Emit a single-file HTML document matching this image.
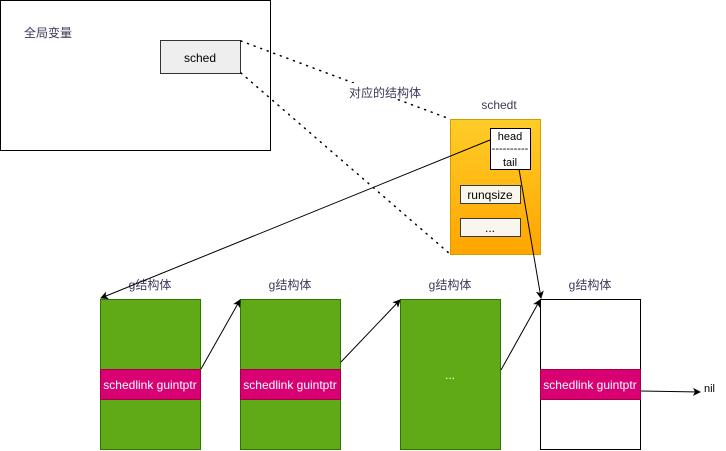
<!DOCTYPE html>
<html><head><meta charset="utf-8"><style>
html,body{margin:0;padding:0;background:#fff;}
svg{display:block;font-family:"Liberation Sans","Noto Sans CJK SC",sans-serif;}
</style></head><body>
<svg width="726" height="451" viewBox="0 0 726 451" xmlns="http://www.w3.org/2000/svg">
<defs>
<linearGradient id="og" x1="0" y1="0" x2="0" y2="1"><stop offset="0" stop-color="#ffcd28"/><stop offset="1" stop-color="#ffa500"/></linearGradient>
<marker id="ar" markerWidth="8" markerHeight="8" refX="7" refY="4" orient="auto" markerUnits="userSpaceOnUse"><path d="M0,0 L8,4 L0,8 L2,4 z" fill="#000"/></marker>
</defs>
<rect x="0.5" y="0.5" width="270" height="150" fill="#fff" stroke="#000"/>
<text x="24" y="37" font-size="12" fill="#3a3a5a">全局变量</text>
<rect x="160.5" y="40.5" width="80" height="33" fill="#eeeeee" stroke="#333"/>
<text x="200" y="62" font-size="12" text-anchor="middle">sched</text>
<line x1="241" y1="41" x2="450" y2="119" stroke="#000" stroke-width="1.5" stroke-dasharray="1,6" stroke-linecap="round"/>
<line x1="241" y1="73" x2="450" y2="254" stroke="#000" stroke-width="1.5" stroke-dasharray="1,6" stroke-linecap="round"/>
<rect x="346" y="83" width="78" height="16" fill="#fff"/>
<text x="385" y="97" font-size="12" text-anchor="middle" fill="#3a3a5a">对应的结构体</text>
<text x="499" y="109" font-size="12" text-anchor="middle" fill="#3a3a5a">schedt</text>
<rect x="450.5" y="119.5" width="90" height="135" fill="url(#og)" stroke="#d79b00"/>
<rect x="490.5" y="128.5" width="40" height="41" fill="#fff" stroke="#000"/>
<text x="510" y="140" font-size="11" text-anchor="middle">head</text>
<text x="510" y="152" font-size="11" text-anchor="middle">----------</text>
<text x="510" y="166" font-size="11" text-anchor="middle">tail</text>
<rect x="460.5" y="185.5" width="60" height="18" fill="#f9f7ed" stroke="#36393d"/>
<text x="490" y="199" font-size="12" text-anchor="middle">runqsize</text>
<rect x="460.5" y="218.5" width="60" height="18" fill="#f9f7ed" stroke="#36393d"/>
<text x="490" y="232" font-size="12" text-anchor="middle">...</text>
<!-- g structs -->
<g font-size="12">
<text x="150" y="289" text-anchor="middle" fill="#3a3a5a">g结构体</text>
<rect x="100.5" y="299.5" width="100" height="150" fill="#60a917" stroke="#2d7600"/>
<rect x="100.5" y="369.5" width="100" height="30" fill="#d80073" stroke="#a50040"/>
<text x="150" y="389" text-anchor="middle" fill="#fff">schedlink guintptr</text>
<text x="290" y="289" text-anchor="middle" fill="#3a3a5a">g结构体</text>
<rect x="240.5" y="299.5" width="100" height="150" fill="#60a917" stroke="#2d7600"/>
<rect x="240.5" y="369.5" width="100" height="30" fill="#d80073" stroke="#a50040"/>
<text x="290" y="389" text-anchor="middle" fill="#fff">schedlink guintptr</text>
<text x="450" y="289" text-anchor="middle" fill="#3a3a5a">g结构体</text>
<rect x="400.5" y="299.5" width="100" height="150" fill="#60a917" stroke="#2d7600"/>
<text x="450" y="379" text-anchor="middle" fill="#fff">...</text>
<text x="590" y="289" text-anchor="middle" fill="#3a3a5a">g结构体</text>
<rect x="540.5" y="299.5" width="100" height="150" fill="#fff" stroke="#000"/>
<rect x="540.5" y="369.5" width="100" height="30" fill="#d80073" stroke="#a50040"/>
<text x="590" y="389" text-anchor="middle" fill="#fff">schedlink guintptr</text>
<text x="704" y="392" font-size="11">nil</text>
</g>
<g stroke="#000" stroke-width="1" fill="none">
<line x1="490" y1="140" x2="101" y2="298" marker-end="url(#ar)"/>
<line x1="519" y1="169" x2="541" y2="298" marker-end="url(#ar)"/>
<line x1="201" y1="369" x2="240" y2="300" marker-end="url(#ar)"/>
<line x1="341" y1="362" x2="400" y2="300" marker-end="url(#ar)"/>
<line x1="501" y1="370" x2="540" y2="300" marker-end="url(#ar)"/>
<line x1="641" y1="391" x2="700" y2="392" marker-end="url(#ar)"/>
</g>
</svg>
</body></html>
